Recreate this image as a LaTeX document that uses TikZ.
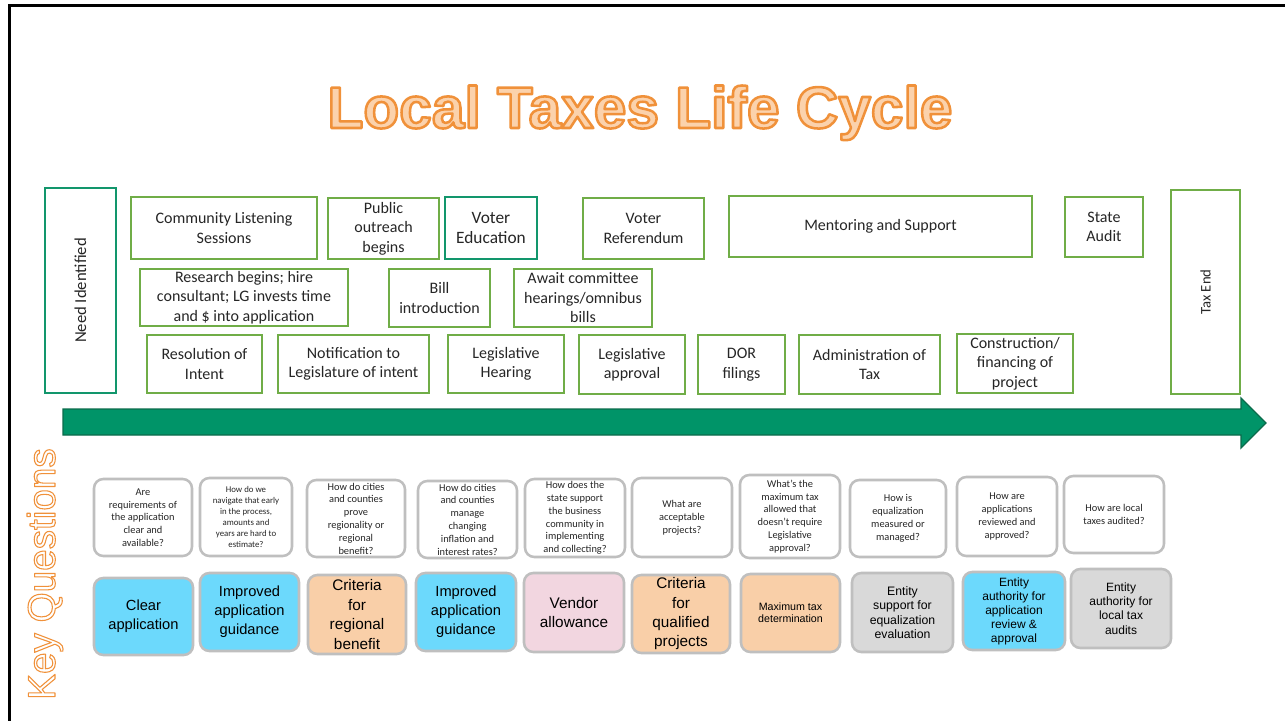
\documentclass[tikz,border=0pt]{standalone}
\usepackage{fontspec}
\setmainfont{Carlito}
\newfontfamily\arialf{Liberation Sans}

\definecolor{lgreen}{HTML}{70AD47}
\definecolor{dgreen}{HTML}{12966C}
\definecolor{arrowg}{HTML}{009468}
\definecolor{arrowb}{HTML}{0B6B4B}
\definecolor{qgray}{HTML}{BFBFBF}
\definecolor{cblue}{HTML}{6CD9FC}
\definecolor{corange}{HTML}{F9CFA8}
\definecolor{cpink}{HTML}{F2D6E0}
\definecolor{cgray}{HTML}{D9D9D9}
\definecolor{torange}{HTML}{F0913A}
\definecolor{tfill}{HTML}{FBD2AC}
\definecolor{txt}{HTML}{262626}

\newcommand\fs[2]{\fontsize{#1}{#2}\selectfont}
% outlined text: #1 fill rgb, #2 stroke rgb, #3 stroke width (bp), #4 text
\newcommand\outlinedtext[4]{\special{pdf:literal direct #1 rg #2 RG #3 w 1 j 2 Tr}#4\special{pdf:literal direct 0 Tr}}
\newcommand\bx[7]{\node[#6, minimum width={(#4-#2)*0.75pt}, minimum height={(#5-#3)*0.75pt}] (#1) at ({(#2+#4)/2},{(#3+#5)/2}) {#7};}

\tikzset{
  tbox/.style={draw=lgreen, line width=1.1pt, fill=white, align=center, inner sep=1pt, text=txt, font=\fs{12}{14.6}},
  dbox/.style={tbox, draw=dgreen, line width=2.2pt},
  qbox/.style={draw=qgray, line width=1.9pt, rounded corners=7pt, fill=white, align=center, inner sep=1pt, text=txt, font=\fs{7.8}{9.6}},
  cbox/.style={draw=qgray, line width=1.9pt, rounded corners=7pt, align=center, inner sep=1pt, text=black},
}

\begin{document}
\begin{tikzpicture}[x=0.75pt,y=-0.75pt]
\useasboundingbox (0,0) rectangle (1285,721);
\fill[white] (0,0) rectangle (1285,721);

% frame
\draw[line width=2.2pt, black] (9.5,725) -- (9.5,5.7) -- (1290,5.7);

% title
\node[anchor=base, text=tfill, inner sep=0] (title) at (640,128)
  {\arialf\bfseries\fs{44}{48}\outlinedtext{0.984 0.824 0.675}{0.941 0.569 0.227}{1.9}{Local Taxes Life Cycle}};

% Key Questions
\node[anchor=base, rotate=90, text=white, inner sep=0] (kq) at (55,574)
  {\arialf\fs{29}{32}\outlinedtext{1 1 1}{0.941 0.569 0.227}{0.8}{Key Questions}};

% arrow
\draw[fill=arrowg, draw=arrowb, line width=1pt, line join=miter]
  (63,409) -- (1241,409) -- (1241,398) -- (1266,423) -- (1241,448) -- (1241,435) -- (63,435) -- cycle;

% side boxes
\bx{need}{45}{188}{116}{393}{dbox, font=\fs{12.5}{15}}{\rotatebox{90}{Need Identified}}
\bx{taxend}{1171}{190}{1240}{394}{tbox, font=\fs{11}{13}}{\rotatebox{90}{Tax End}}

% row 1
\bx{t1}{131}{197}{317}{259}{tbox}{Community Listening\\Sessions}
\bx{t2}{328}{198}{439}{259}{tbox}{Public\\outreach\\begins}
\bx{t3}{445}{197}{537}{259}{tbox, draw=dgreen, line width=1.6pt, font=\fs{13}{15}}{Voter\\Education}
\bx{t4}{583}{198}{704}{259}{tbox}{Voter\\Referendum}
\bx{t5}{729}{196}{1032}{257}{tbox}{Mentoring and Support}
\bx{t6}{1065}{197}{1143}{257}{tbox}{State\\Audit}
% row 2
\bx{t7}{140}{269}{348}{326}{tbox}{Research begins; hire\\consultant; LG invests time\\and \$ into application}
\bx{t8}{389}{269}{490}{327}{tbox}{Bill\\introduction}
\bx{t9}{514}{269}{652}{327}{tbox}{Await committee\\hearings/omnibus\\bills}
% row 3
\bx{t10}{147}{335}{262}{393}{tbox}{Resolution of\\Intent}
\bx{t11}{278}{335}{429}{393}{tbox}{Notification to\\Legislature of intent}
\bx{t12}{448}{335}{564}{393}{tbox}{Legislative\\Hearing}
\bx{t13}{579}{335}{685}{394}{tbox}{Legislative\\approval}
\bx{t14}{698}{335}{785}{394}{tbox}{DOR\\filings}
\bx{t15}{799}{335}{940}{394}{tbox}{Administration of\\Tax}
\bx{t16}{957}{334}{1073}{393}{tbox}{Construction/\\financing of\\project}

% questions
\bx{q1}{94}{479}{192}{556}{qbox}{Are\\requirements of\\the application\\clear and\\available?}
\bx{q2}{200}{478}{292}{556}{qbox, font=\fs{6.6}{8.3}}{How do we\\navigate that early\\in the process,\\amounts and\\years are hard to\\estimate?}
\bx{q3}{307}{480}{405}{557}{qbox}{How do cities\\and counties\\prove\\regionality or\\regional\\benefit?}
\bx{q4}{418}{481}{517}{558}{qbox}{How do cities\\and counties\\manage\\changing\\inflation and\\interest rates?}
\bx{q5}{525}{479}{625}{557}{qbox}{How does the\\state support\\the business\\community in\\implementing\\and collecting?}
\bx{q6}{632}{478}{732}{557}{qbox}{What are\\acceptable\\projects?}
\bx{q7}{740}{475}{840}{558}{qbox}{What’s the\\maximum tax\\allowed that\\doesn’t require\\Legislative\\approval?}
\bx{q8}{850}{480}{946}{557}{qbox}{How is\\equalization\\measured or\\managed?}
\bx{q9}{957}{477}{1057}{556}{qbox}{How are\\applications\\reviewed and\\approved?}
\bx{q10}{1064}{476}{1164}{553}{qbox}{How are local\\taxes audited?}

% answers
\bx{c1}{94}{578}{193}{655}{cbox, fill=cblue, font=\arialf\fs{11}{14.3}}{Clear\\application}
\bx{c2}{200}{573}{299}{651}{cbox, fill=cblue, font=\arialf\fs{11}{14.3}}{Improved\\application\\guidance}
\bx{c3}{308}{575}{406}{654}{cbox, fill=corange, font=\arialf\fs{11.5}{14.7}}{Criteria\\for\\regional\\benefit}
\bx{c4}{416}{573}{516}{651}{cbox, fill=cblue, font=\arialf\fs{11}{14.3}}{Improved\\application\\guidance}
\bx{c5}{524}{573}{624}{652}{cbox, fill=cpink, font=\arialf\fs{11.5}{14.3}}{Vendor\\allowance}
\bx{c6}{632}{575}{730}{653}{cbox, fill=corange, font=\arialf\fs{11.5}{14.5}}{Criteria\\for\\qualified\\projects}
\bx{c7}{741}{574}{840}{652}{cbox, fill=corange, font=\arialf\fs{8}{9}}{Maximum tax\\determination}
\bx{c8}{852}{573}{953}{652}{cbox, fill=cgray, font=\arialf\fs{9.2}{10.7}}{Entity\\support for\\equalization\\evaluation}
\bx{c9}{963}{572}{1065}{650}{cbox, fill=cblue, font=\arialf\fs{9}{10.5}}{Entity\\authority for\\application\\review \&\\approval}
\bx{c10}{1071}{569}{1171}{648}{cbox, fill=cgray, font=\arialf\fs{9}{10.7}}{Entity\\authority for\\local tax\\audits}
\end{tikzpicture}
\end{document}
